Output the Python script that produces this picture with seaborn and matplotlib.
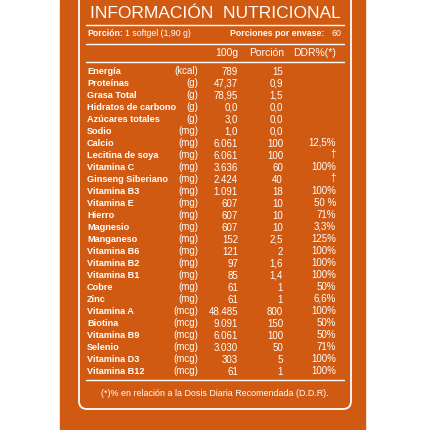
import matplotlib
matplotlib.use("Agg")
import matplotlib.pyplot as plt
from matplotlib.patches import FancyBboxPatch, Rectangle
import seaborn as sns

sns.set_theme(style="white")
plt.rcParams['font.family'] = ['Liberation Sans', 'DejaVu Sans']

nutrients = ["Energía", "Proteínas", "Grasa Total", "Hidratos de carbono", "Azúcares totales",
             "Sodio", "Calcio", "Lecitina de soya", "Vitamina C", "Ginseng Siberiano",
             "Vitamina B3", "Vitamina E", "Hierro", "Magnesio", "Manganeso", "Vitamina B6",
             "Vitamina B2", "Vitamina B1", "Cobre", "Zinc", "Vitamina A", "Biotina",
             "Vitamina B9", "Selenio", "Vitamina D3", "Vitamina B12"]
units = ["(kcal)", "(g)", "(g)", "(g)", "(g)", "(mg)", "(mg)", "(mg)", "(mg)", "(mg)",
         "(mg)", "(mg)", "(mg)", "(mg)", "(mg)", "(mg)", "(mg)", "(mg)", "(mg)", "(mg)",
         "(mcg)", "(mcg)", "(mcg)", "(mcg)", "(mcg)", "(mcg)"]
per100g = ["789", "47,37", "78,95", "0,0", "3,0", "1,0", "6.061", "6.061", "3.636", "2.424",
           "1.091", "607", "607", "607", "152", "121", "97", "85", "61", "61",
           "48.485", "9.091", "6.061", "3.030", "303", "61"]
portion = ["15", "0,9", "1,5", "0,0", "0,0", "0,0", "100", "100", "60", "40",
           "18", "10", "10", "10", "2,5", "2", "1,6", "1,4", "1", "1",
           "800", "150", "100", "50", "5", "1"]
ddr = ["", "", "", "", "", "", "12,5%", "†", "100%", "†",
       "100%", "50 %", "71%", "3,3%", "125%", "100%", "100%", "100%", "50%", "6,6%",
       "100%", "50%", "50%", "71%", "100%", "100%"]

orange = "#D15A12"
fig = plt.figure(figsize=(4.3, 4.3), dpi=100)
ax = fig.add_axes([0, 0, 1, 1])
ax.set_xlim(0, 430); ax.set_ylim(430, 0); ax.axis("off")
fig.patch.set_facecolor("white")
ax.add_patch(Rectangle((60, 0), 305, 430, color=orange, zorder=0))
ax.add_patch(FancyBboxPatch((79, -10), 272, 419, boxstyle="round,pad=0,rounding_size=8",
                            fill=False, ec="white", lw=1.3, zorder=1))
W = "white"
ax.text(215, 14, "INFORMACIÓN  NUTRICIONAL", color=W, fontsize=12.5, ha="center", va="center")
for y in (24.5, 43.5, 61.5, 380):
    ax.plot([86, 344], [y, y], color=W, lw=1)
ax.text(87, 34, "Porción:", color=W, fontsize=6.3, weight="bold", ha="left", va="center")
ax.text(125, 34, "1 softgel (1,90 g)", color=W, fontsize=6.3, ha="left", va="center")
ax.text(324, 34, "Porciones por envase:", color=W, fontsize=6.3, weight="bold", ha="right", va="center")
ax.text(341, 34, "60", color=W, fontsize=6.3, ha="right", va="center")
ax.text(238, 53, "100g", color=W, fontsize=7.5, ha="right", va="center")
ax.text(284, 53, "Porción", color=W, fontsize=7.5, ha="right", va="center")
ax.text(336, 53, "DDR%(*)", color=W, fontsize=7.5, ha="right", va="center")

y0, dy = 72, (372 - 72) / 25
for i, (n, u, a, p, d) in enumerate(zip(nutrients, units, per100g, portion, ddr)):
    y = y0 + i * dy
    ax.text(87, y, n, color=W, fontsize=6.6, weight="bold", ha="left", va="center")
    ax.text(198, y - 1.5, u, color=W, fontsize=7, ha="right", va="center")
    ax.text(238, y, a, color=W, fontsize=7, ha="right", va="center")
    ax.text(283, y, p, color=W, fontsize=7, ha="right", va="center")
    ax.text(336, y - 1.5, d, color=W, fontsize=7, ha="right", va="center")
ax.text(215, 393, "(*)% en relación a la Dosis Diaria Recomendada (D.D.R).", color=W,
        fontsize=6.4, ha="center", va="center")
fig.savefig("out.png", dpi=100)
